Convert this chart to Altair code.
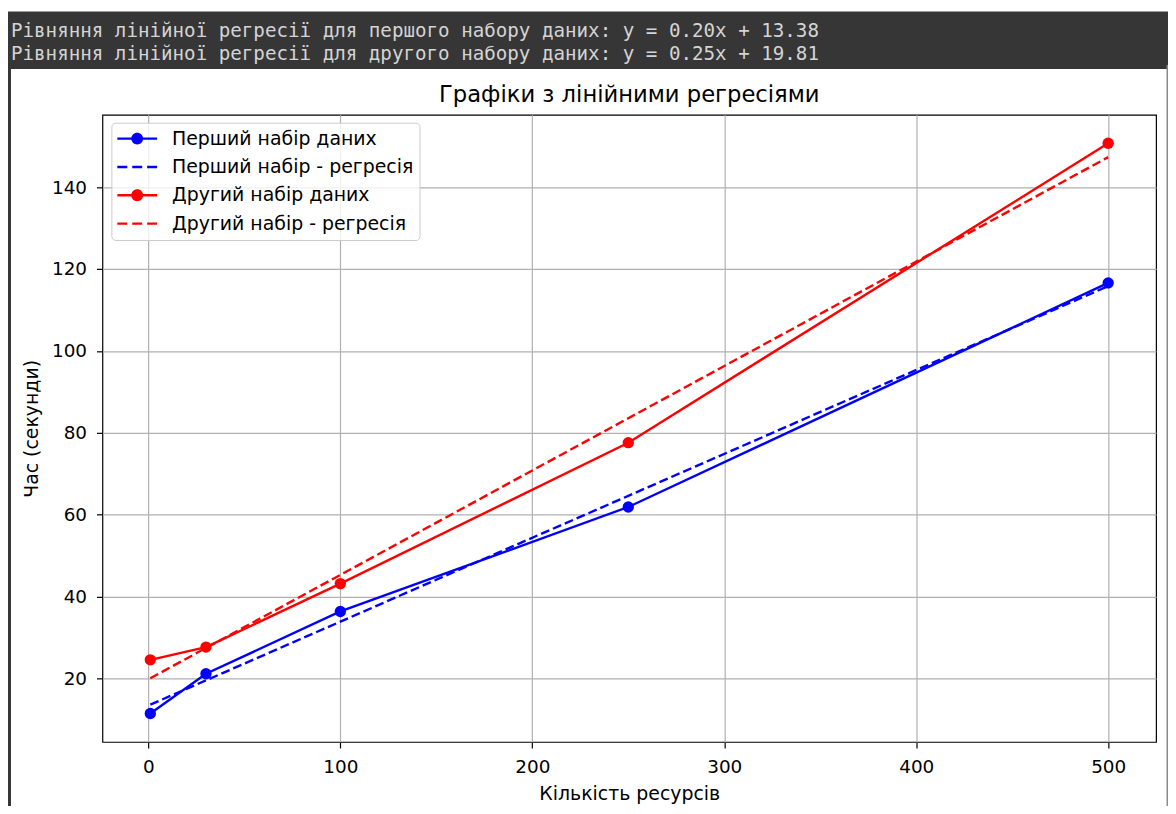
import altair as alt
import numpy as np
import pandas as pd

# ---- data ----
resources = [1, 30, 100, 250, 500]
time_first = [11.5, 21.2, 36.4, 61.9, 116.6]
time_second = [24.6, 27.7, 43.2, 77.6, 150.7]

series_labels = ["Перший набір даних", "Перший набір - регресія",
                 "Другий набір даних", "Другий набір - регресія"]
series_colors = ["#0000ff", "#0000ff", "#ff0000", "#ff0000"]
x_ticks = [0, 100, 200, 300, 400, 500]
y_ticks = [20, 40, 60, 80, 100, 120, 140]
console_lines = [
    "Рівняння лінійної регресії для першого набору даних: y = 0.20x + 13.38",
    "Рівняння лінійної регресії для другого набору даних: y = 0.25x + 19.81",
]
chart_title = "Графіки з лінійними регресіями"
x_title = "Кількість ресурсів"
y_title = "Час (секунди)"

# ---- build tables ----
rows = []
for lab, ys in ((series_labels[0], time_first), (series_labels[2], time_second)):
    for xv, yv in zip(resources, ys):
        rows.append({"series": lab, "x": xv, "y": yv})
fit1 = np.polyfit(resources, time_first, 1)
fit2 = np.polyfit(resources, time_second, 1)
for lab, fit in ((series_labels[1], fit1), (series_labels[3], fit2)):
    for xv in resources:
        rows.append({"series": lab, "x": xv, "y": float(np.polyval(fit, xv))})
df = pd.DataFrame(rows)

all_y = time_first + time_second
xr = max(resources) - min(resources)
yr = max(all_y) - min(all_y)
x_dom = [min(resources) - 0.05 * xr, max(resources) + 0.05 * xr]
y_dom = [min(all_y) - 0.05 * yr, max(all_y) + 0.05 * yr]

W, H = 1060, 631
FONT = "DejaVu Sans"

xenc = alt.X("x:Q", scale=alt.Scale(domain=x_dom, nice=False, zero=False),
             axis=alt.Axis(values=x_ticks, format="d", title=x_title,
                           labelPadding=10, titlePadding=8))
yenc = alt.Y("y:Q", scale=alt.Scale(domain=y_dom, nice=False, zero=False),
             axis=alt.Axis(values=y_ticks, format="d", title=y_title,
                           labelPadding=10, titlePadding=10))

base = alt.Chart(df)

def data_line(label, color):
    return base.transform_filter(alt.datum.series == label).mark_line(
        color=color, strokeWidth=2.4).encode(x=xenc, y=yenc)

def data_points(label, color):
    return base.transform_filter(alt.datum.series == label).mark_point(
        filled=True, size=130, opacity=1, color=color, strokeWidth=0).encode(x=xenc, y=yenc)

def reg_line(label, color):
    return base.transform_filter(alt.datum.series == label).mark_line(
        color=color, strokeWidth=2.4, strokeDash=[9, 4]).encode(x=xenc, y=yenc)

# ---- decorations (console header bar and frame) ----
one = alt.Data(values=[{}])
DARK = "#363636"
bar = alt.Chart(one).mark_rect(color=DARK).encode(
    x=alt.value(-96), x2=alt.value(1073), y=alt.value(-104), y2=alt.value(-46))
left_strip = alt.Chart(one).mark_rect(color=DARK).encode(
    x=alt.value(-96), x2=alt.value(-92), y=alt.value(-46), y2=alt.value(702))
right_line = alt.Chart(one).mark_rect(color="#8a8a8a").encode(
    x=alt.value(1070.5), x2=alt.value(1072), y=alt.value(-50), y2=alt.value(702))

def console_text(i, ypix):
    return alt.Chart(alt.Data(values=[{"t": console_lines[i]}])).mark_text(
        align="left", baseline="middle", font="DejaVu Sans Mono", fontSize=19.3,
        color="#d4d4d4").encode(text="t:N", x=alt.value(-92), y=alt.value(ypix))

title_layer = alt.Chart(alt.Data(values=[{"t": chart_title}])).mark_text(
    align="center", baseline="alphabetic", font=FONT, fontSize=22.8, color="#000000"
).encode(text="t:N", x=alt.value(W / 2), y=alt.value(-13))

# ---- legend via custom symbol paths ----
path_line_dot = ("M-1,-0.12 L3,-0.12 L3,0.12 L-1,0.12 Z "
                 "M1.6,0 A0.6,0.6 0 1,1 0.4,0 A0.6,0.6 0 1,1 1.6,0 Z")
path_dash = ("M-1,-0.12 L0,-0.12 L0,0.12 L-1,0.12 Z "
             "M0.5,-0.12 L1.5,-0.12 L1.5,0.12 L0.5,0.12 Z "
             "M2,-0.12 L3,-0.12 L3,0.12 L2,0.12 Z")
legend_df = pd.DataFrame({"series": series_labels})
leg = alt.Legend(title=None, orient="none", legendX=9, legendY=8)
legend_layer = alt.Chart(legend_df).mark_point(filled=True, opacity=1).encode(
    color=alt.Color("series:N", scale=alt.Scale(domain=series_labels, range=series_colors), legend=leg),
    shape=alt.Shape("series:N", scale=alt.Scale(domain=series_labels,
                    range=[path_line_dot, path_dash, path_line_dot, path_dash]), legend=leg),
).transform_filter("false")

chart = alt.layer(
    bar, left_strip, right_line,
    console_text(0, -84), console_text(1, -61),
    title_layer,
    data_line(series_labels[0], series_colors[0]),
    data_points(series_labels[0], series_colors[0]),
    reg_line(series_labels[1], series_colors[1]),
    data_line(series_labels[2], series_colors[2]),
    data_points(series_labels[2], series_colors[2]),
    reg_line(series_labels[3], series_colors[3]),
    legend_layer,
).properties(
    width=W, height=H,
    padding={"left": 95, "top": 105, "right": 12, "bottom": 62},
    autosize=alt.AutoSizeParams(type="none"),
).configure(background="white").configure_view(
    stroke="#000000", strokeWidth=1.2, fill=None
).configure_axis(
    labelFont=FONT, labelFontSize=18.5, labelColor="#000000",
    labelFlush=False, labelOverlap=False,
    tickColor="#000000", tickSize=6, tickWidth=1.2, domain=False,
    grid=True, gridColor="#b0b0b0", gridWidth=1.2,
    titleFont=FONT, titleFontSize=19, titleColor="#000000", titleFontWeight="normal",
).configure_legend(
    labelFont=FONT, labelFontSize=19, labelColor="#000000", labelOffset=35, labelLimit=500,
    symbolSize=400, symbolStrokeWidth=0, symbolOpacity=1,
    fillColor="rgba(255,255,255,0.8)", strokeColor="#cccccc", cornerRadius=4,
    padding=6, rowPadding=8.5,
)

chart.save("out.html", embed_options={"renderer": "svg", "actions": False})
